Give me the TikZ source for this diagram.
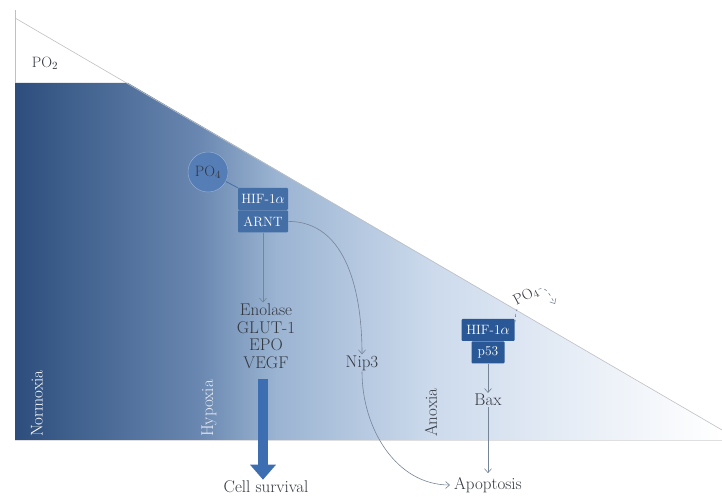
\documentclass[tikz,border=0pt]{standalone}
\usetikzlibrary{arrows.meta,positioning}
\definecolor{oxA}{RGB}{45,78,125}
\definecolor{oxB}{RGB}{105,135,176}
\definecolor{oxC}{RGB}{155,180,210}
\definecolor{oxD}{RGB}{204,218,236}
\definecolor{oxE}{RGB}{236,241,248}
\definecolor{edgegray}{RGB}{190,192,196}
\definecolor{boxblue}{RGB}{68,110,166}
\definecolor{boxdark}{RGB}{42,88,150}
\definecolor{circblue}{RGB}{86,126,182}
\definecolor{thickblue}{RGB}{62,110,178}
\definecolor{arrgray}{RGB}{118,132,152}
\definecolor{txtgray}{RGB}{52,56,64}
\pgfdeclarehorizontalshading{oxygen}{100bp}{color(0bp)=(oxA); color(25bp)=(oxA);
  color(38bp)=(oxB); color(43.5bp)=(oxC); color(54.5bp)=(oxD); color(66.5bp)=(oxE);
  color(75bp)=(white); color(100bp)=(white)}
\newcommand{\diagfont}{\fontsize{17}{17.5}\selectfont}
\newcommand{\boxfont}{\fontsize{13.5}{15}\selectfont}
\begin{document}
\begin{tikzpicture}[x=1pt,y=1pt,
    edge/.style={draw=edgegray,line width=0.6pt},
    lbl/.style={text=txtgray,font=\diagfont,align=center,inner sep=1pt},
    zone/.style={rotate=90,anchor=west,inner sep=0pt,font=\fontsize{17}{17}\selectfont},
    hifbox/.style={fill=boxblue,text=white,rounded corners=1pt,inner sep=2pt,minimum height=22pt,font=\boxfont},
    arr/.style={draw=arrgray,line width=0.6pt,-{Straight Barb[length=4pt,width=7pt]}},
    bigarrow/.style={draw=thickblue,line width=10pt,-{Triangle[length=15pt,width=25pt]}}]
  \useasboundingbox (0,0) rectangle (722,497);
  % oxygen gradient
  \shade[shading=oxygen] (15,414) -- (128,414) -- (722,67) -- (722,57) -- (15,57) -- cycle;
  \draw[edge] (15,487) -- (15,414);
  \draw[edge] (15,479) -- (722,67);
  \draw[edge,draw=edgegray!50] (15,57) -- (722,57);
  % zones
  \node[zone,text=white] (normoxia) at (37,60) {Normoxia};
  \node[zone,text=white!85!oxB] (hypoxia) at (209,60) {Hypoxia};
  \node[zone,text=txtgray] (anoxia) at (431,60) {Anoxia};
  \node[lbl,font=\fontsize{15}{15}\selectfont] (pO2) at (45,434) {PO$_2$};
  % hypoxia branch
  \node[circle,fill=circblue,draw=circblue!60!white,minimum size=40pt,inner sep=0pt,
    text=txtgray,font=\fontsize{15}{15}\selectfont] (po4) at (208,325) {PO$_4$};
  \node[hifbox,minimum width=50pt] (hif) at (263,298) {HIF-1$\alpha$};
  \node[hifbox,minimum width=50pt,below=0pt of hif] (arnt) {ARNT};
  \node[lbl] (genes) at (266,161) {Enolase\\GLUT-1\\EPO\\VEGF};
  \node[lbl] (survival) at (266,10) {Cell survival};
  \node[lbl] (nip3) at (362,134) {Nip3};
  % anoxia branch
  \node[hifbox,minimum width=53pt,fill=boxdark] (hifr) at (488,167) {HIF-1$\alpha$};
  \node[hifbox,minimum width=33pt,fill=boxdark,below=0pt of hifr] (p53) {p53};
  \node[lbl] (bax) at (488,97) {Bax};
  \node[lbl] (apoptosis) at (488,12) {Apoptosis};
  \node[lbl,rotate=28,font=\fontsize{15}{15}\selectfont] (po4out) at (526,201) {PO\textsubscript{4}};
  \coordinate (oxend) at (555,193);
  % connectors
  \draw[draw=boxblue,line width=0.8pt] (po4) -- (hif.north west);
  \draw[arr] (arnt.south) -- (arnt.south |- genes.north);
  \draw[bigarrow,shorten <=10pt] (arnt.south |- genes.south) -- (arnt.south |- survival.north);
  \draw[arr] (arnt.east) to[out=0,in=90] (nip3.north);
  \draw[arr,shorten >=3pt] (nip3.south) to[out=-90,in=180] (apoptosis.west);
  \draw[arr] (p53) -- (bax);
  \draw[arr,shorten >=3pt] (bax) -- (apoptosis);
  \draw[dashed,draw=arrgray,line width=0.6pt] ([yshift=-4pt]hifr.north east) to[out=70,in=-120] (po4out.south west);
  \draw[arr,dashed] (po4out.east) to[out=30,in=120] (oxend);
\end{tikzpicture}
\end{document}
